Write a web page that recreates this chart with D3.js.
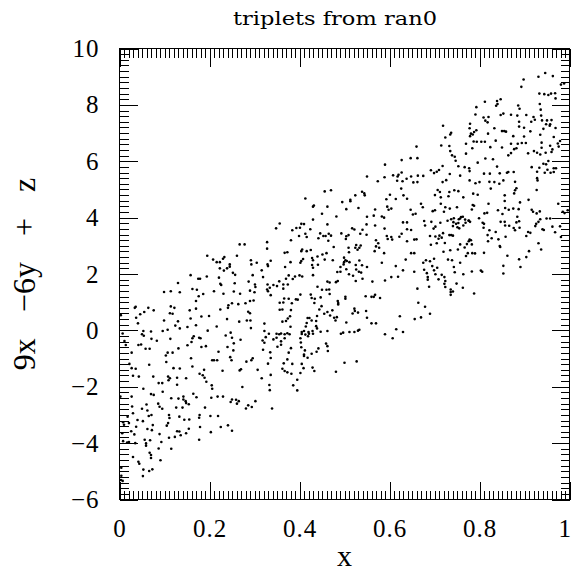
<!DOCTYPE html>
<html><head><meta charset="utf-8">
<script src="https://cdn.jsdelivr.net/npm/d3@7"></script>
<style>body{margin:0;background:#fff}svg{display:block}</style>
</head><body>
<svg id="chart" width="571" height="574"></svg>
<script>
const chartTitle = "triplets from ran0";
const xLabel = "x";
const yLabel = "9x \u22126y + z";
const xDomain = [0, 1];
const yDomain = [-6, 10];
const xTickValues = [0, 0.2, 0.4, 0.6, 0.8, 1];
const xTickLabels = ["0", "0.2", "0.4", "0.6", "0.8", "1"];
const yTickValues = [-6, -4, -2, 0, 2, 4, 6, 8, 10];
const yTickLabels = ["\u22126", "\u22124", "\u22122", "0", "2", "4", "6", "8", "10"];
const xMinorStep = 0.01;
const yMinorStep = 0.2;

// [x, 9x - 6y + z] pairs
const triplets = [
[0.660,6.52],[0.627,6.04],[0.647,6.11],[0.662,6.11],[0.590,5.88],[0.550,5.46],[0.574,5.29],[0.589,5.43],[0.608,5.50],[0.618,5.46],[0.620,5.52],[0.627,5.60],[0.617,5.31],[0.629,5.29],[0.638,5.38],[0.648,5.46],[0.663,5.49],[0.653,5.25],[0.662,5.26],[0.456,4.93],[0.470,4.97],[0.539,4.92],[0.544,4.86],[0.626,5.03],[0.524,4.79],[0.545,4.79],[0.601,4.81],[0.631,4.79],
[0.946,9.13],[0.931,9.00],[0.963,9.02],[0.898,8.90],[0.893,8.64],[0.981,8.72],[0.988,8.76],[0.933,8.40],[0.944,8.38],[0.953,8.35],[0.959,8.40],[0.968,8.41],[0.969,8.23],[0.847,8.20],[0.839,8.14],[0.840,8.03],[0.837,7.97],[0.812,8.11],[0.793,7.92],[0.886,7.98],[0.889,7.86],[0.934,8.03],[0.936,7.83],[0.937,7.62],[0.939,7.45],[0.950,7.45],[0.960,7.46],[0.948,7.31],[0.956,7.26],[0.957,7.31],[0.942,7.15],[0.935,6.94],[0.965,6.86],[0.969,7.18],[0.791,7.66],[0.809,7.55],[0.820,7.57],[0.813,7.44],[0.818,7.38],[0.847,7.64],[0.853,7.69],[0.870,7.65],[0.884,7.62],[0.904,7.64],[0.920,7.57],[0.923,7.47],[0.915,7.40],[0.888,7.40],[0.888,7.23],[0.899,7.19],[0.779,7.33],[0.778,7.17],[0.781,6.98],[0.779,6.89],[0.785,6.95],[0.788,7.04],[0.793,7.10],[0.719,7.26],[0.737,7.01],[0.735,6.95],[0.819,6.98],[0.833,7.17],[0.850,7.07],[0.859,7.05],[0.855,7.07],[0.899,6.88],[0.913,7.06],[0.875,6.89],[0.724,6.84],[0.715,6.56],[0.733,6.54],[0.735,6.36],[0.739,6.21],[0.745,6.16],[0.747,6.02],[0.770,6.62],[0.787,6.70],[0.794,6.69],[0.804,6.69],[0.812,6.69],[0.836,6.73],[0.824,6.50],[0.850,6.49],[0.870,6.62],[0.885,6.62],[0.894,6.65],[0.903,6.65],[0.882,6.46],[0.877,6.43],[0.870,6.29],[0.864,6.21],[0.908,6.28],[0.921,6.36],[0.928,6.30],[0.938,6.48],[0.935,6.24],[0.947,6.30],[0.938,6.66],[0.957,6.55],[0.962,6.42],[0.960,6.33],[0.976,6.52],[0.974,6.63],[0.979,6.72],[0.784,6.46],[0.770,6.27],[0.796,5.95],[0.813,6.10],[0.830,6.07],[0.839,5.81],[0.845,5.57],[0.861,5.59],[0.864,5.62],[0.876,5.62],[0.916,5.79],[0.933,5.77],[0.942,5.91],[0.948,5.89],[0.953,6.01],[0.958,5.59],[0.945,5.59],[0.928,5.63],[0.928,5.40],[0.929,5.32],[0.951,5.70],[0.965,5.75],[0.970,5.75],[0.965,5.62],[0.675,5.48],[0.692,5.68],[0.699,5.58],[0.705,5.63],[0.710,5.69],[0.718,5.83],[0.734,5.55],[0.753,5.82],[0.767,5.79],[0.777,5.75],[0.778,5.65],[0.757,5.49],[0.778,5.32],[0.791,5.22],[0.800,5.26],[0.810,5.56],[0.823,5.56],[0.822,5.27],[0.833,5.26],[0.844,5.20],[0.853,5.32],[0.879,5.27],[0.882,5.04],[0.879,4.97],[0.877,4.86],[0.718,5.26],[0.726,5.33],[0.707,4.98],[0.712,4.91],[0.744,4.97],[0.753,4.94],[0.701,4.80],[0.733,4.91],[0.786,4.85],[0.796,4.81],[0.825,5.03],[0.927,4.98],
[0.714,4.72],[0.731,4.76],[0.764,4.72],[0.856,4.79],[0.909,4.63],[0.856,4.59],[0.890,4.54],[0.820,4.49],[0.785,4.45],[0.788,4.42],[0.674,4.37],[0.670,4.49],[0.714,4.49],[0.724,4.37],[0.734,4.32],[0.750,4.37],[0.783,4.29],[0.696,4.23],[0.701,4.26],[0.721,4.21],[0.759,4.02],[0.757,3.97],[0.763,4.03],[0.754,3.94],[0.776,3.90],[0.799,3.98],[0.811,4.15],[0.817,4.17],[0.841,4.26],[0.857,4.34],[0.865,4.28],[0.875,4.32],[0.887,4.30],[0.884,4.03],[0.888,3.87],[0.882,3.83],[0.856,3.85],[0.847,3.85],[0.857,3.72],[0.866,3.71],[0.876,3.63],[0.889,3.64],[0.916,4.28],[0.919,4.21],[0.927,4.15],[0.934,4.22],[0.949,3.97],[0.957,3.97],[0.975,4.49],[0.985,4.21],[0.989,4.16],[0.996,4.26],[0.677,3.88],[0.693,3.85],[0.679,3.72],[0.698,3.61],[0.702,3.68],[0.713,3.82],[0.729,3.89],[0.737,3.94],[0.743,3.98],[0.742,3.84],[0.741,3.70],[0.751,3.66],[0.755,3.62],[0.764,3.72],[0.769,3.82],[0.768,3.93],[0.776,3.89],[0.779,3.85],[0.753,3.81],[0.748,3.78],[0.807,3.82],[0.809,3.64],[0.822,3.55],[0.836,3.49],[0.819,3.16],[0.827,3.27],[0.842,3.23],[0.845,2.99],[0.846,2.96],[0.858,3.32],[0.862,2.65],[0.879,3.55],[0.904,3.35],[0.908,3.49],[0.913,3.46],[0.924,3.70],[0.926,3.78],[0.931,3.85],[0.935,3.94],[0.940,3.59],[0.943,3.56],[0.962,3.68],[0.968,3.48],[0.979,3.69],[0.981,3.31],[0.931,3.09],[0.937,2.87],[0.690,3.35],[0.692,3.04],[0.702,3.33],[0.705,3.09],[0.709,3.25],[0.711,3.36],[0.716,3.29],[0.719,3.45],[0.733,3.38],[0.737,3.38],[0.741,3.36],[0.723,3.10],[0.735,2.84],[0.720,2.79],[0.752,2.87],[0.757,3.05],[0.767,2.94],[0.772,3.06],[0.776,3.16],[0.778,3.22],[0.781,3.20],[0.783,3.05],[0.770,2.64],[0.774,2.74],[0.784,2.74],[0.790,2.73],[0.810,2.75],[0.810,3.78],[0.818,3.38],[0.851,4.13],[0.675,2.40],[0.681,2.49],[0.690,2.45],[0.699,2.54],[0.677,2.15],[0.683,2.03],[0.685,1.89],[0.685,1.80],[0.695,2.28],[0.699,2.13],[0.702,1.99],[0.706,2.22],[0.716,1.97],[0.722,1.89],[0.724,1.75],[0.722,1.65],[0.709,1.81],[0.724,1.54],[0.688,1.55],[0.662,1.48],[0.730,2.51],[0.739,2.49],[0.743,2.25],[0.745,2.06],[0.757,2.40],[0.764,1.99],[0.749,1.66],[0.763,1.51],[0.736,1.45],[0.736,1.36],[0.736,1.26],[0.741,1.38],[0.783,2.09],[0.803,2.12],[0.806,2.08],[0.853,2.29],[0.853,2.02],[0.888,2.52],[0.891,2.25],[0.904,2.60],[0.910,2.81],[0.788,1.31],[0.679,0.84],[0.690,0.59],[0.670,0.46],
[0.267,3.05],[0.278,3.05],[0.328,3.13],[0.328,2.90],[0.195,2.65],[0.208,2.51],[0.216,2.42],[0.223,2.42],[0.230,2.54],[0.233,2.60],[0.261,2.65],[0.292,2.49],[0.293,2.34],[0.305,2.40],[0.329,2.34],[0.330,2.28],[0.223,2.20],[0.232,2.12],[0.239,2.20],[0.245,2.34],[0.245,2.26],[0.252,2.04],[0.257,1.97],[0.316,2.13],[0.158,1.96],[0.194,1.91],[0.175,1.83],[0.179,1.83],[0.221,1.87],[0.224,1.65],[0.226,1.61],[0.256,1.67],[0.296,1.96],[0.287,1.73],[0.301,1.63],[0.302,1.54],[0.319,1.89],[0.328,1.45],[0.330,1.39],[0.130,1.68],[0.099,1.36],[0.114,1.39],[0.134,1.35],[0.162,1.47],[0.172,1.44],[0.186,1.29],[0.210,1.39],[0.231,1.30],[0.254,1.38],[0.268,1.30],[0.290,1.41],[0.300,1.35],[0.176,1.21],[0.170,1.04],[0.036,0.84],[0.034,0.80],[0.064,0.80],[0.076,0.71],[0.055,0.65],[0.046,0.57],[0.037,0.45],[0.041,0.25],[0.114,0.85],[0.122,0.80],[0.112,0.61],[0.118,0.59],[0.156,0.71],[0.170,0.77],[0.182,0.49],[0.199,0.51],[0.224,0.74],[0.242,0.89],[0.250,0.96],[0.264,0.93],[0.280,0.96],[0.290,1.04],[0.298,1.06],[0.286,0.66],[0.290,0.61],[0.283,0.35],[0.291,0.35],[0.241,0.80],[0.239,0.40],[0.266,0.31],[0.292,0.08],[0.322,0.24],[0.003,0.54],[0.099,0.35],[0.130,0.32],[0.124,0.17],[0.134,0.07],[0.151,0.12],[0.158,0.42],[0.170,0.18],[0.196,-0.01],[0.216,0.14],[0.236,-0.18],[0.247,-0.08],[0.250,-0.26],[0.254,-0.46],[0.269,-0.33],[0.318,-0.36],[0.322,-0.44],[0.322,-0.02],[0.325,-0.24],[0.007,-0.11],[0.053,-0.02],[0.050,-0.14],[0.054,-0.19],[0.070,-0.04],[0.071,-0.30],[0.083,-0.37],[0.096,-0.02],[0.107,0.02],[0.113,-0.30],[0.151,-0.53],[0.162,-0.28],[0.160,-0.41],[0.165,-0.21],[0.177,-0.26],[0.180,-0.28],[0.011,-0.38],[0.014,-0.52],[0.042,-0.52],[0.048,-0.50],[0.192,-0.56],
[0.413,4.68],[0.432,4.43],[0.430,4.39],[0.462,4.39],[0.450,4.14],[0.482,4.04],[0.495,4.55],[0.504,4.30],[0.513,4.63],[0.513,4.58],[0.531,4.34],[0.568,4.29],[0.593,4.65],[0.595,4.39],[0.598,4.28],[0.604,4.32],[0.614,4.66],[0.639,4.67],[0.647,4.28],[0.652,4.11],[0.658,4.14],[0.550,4.03],[0.565,4.07],[0.583,4.04],[0.588,4.00],[0.348,3.62],[0.356,3.79],[0.384,3.55],[0.393,3.63],[0.401,3.64],[0.404,3.78],[0.410,3.77],[0.424,3.59],[0.430,3.93],[0.462,3.76],[0.413,3.43],[0.416,3.31],[0.399,3.35],[0.381,3.20],[0.446,3.44],[0.442,3.27],[0.453,3.35],[0.458,3.35],[0.465,3.43],[0.470,3.36],[0.464,3.18],[0.493,3.44],[0.504,3.34],[0.509,3.38],[0.503,3.24],[0.517,3.62],[0.522,3.58],[0.535,3.43],[0.540,3.57],[0.549,3.39],[0.549,3.76],[0.568,3.72],[0.589,3.61],[0.594,3.35],[0.604,3.31],[0.606,3.22],[0.596,3.24],[0.622,3.32],[0.627,3.43],[0.630,3.83],[0.639,3.83],[0.639,3.59],[0.648,3.56],[0.639,3.16],[0.655,3.22],[0.660,3.23],[0.570,3.20],[0.575,3.09],[0.570,2.98],[0.577,2.93],[0.567,2.81],[0.536,3.01],[0.526,3.03],[0.524,2.93],[0.533,2.93],[0.529,2.86],[0.509,2.93],[0.510,2.77],[0.476,2.96],[0.460,2.74],[0.474,2.49],[0.456,2.51],[0.425,2.85],[0.416,2.81],[0.406,2.87],[0.404,2.81],[0.373,2.77],[0.367,2.75],[0.336,2.47],[0.329,1.63],[0.334,1.51],[0.368,2.25],[0.380,2.42],[0.428,2.57],[0.430,2.49],[0.440,2.62],[0.451,2.69],[0.441,2.33],[0.428,2.32],[0.430,2.22],[0.408,2.53],[0.404,2.46],[0.402,2.40],[0.499,2.58],[0.502,2.49],[0.499,2.42],[0.505,2.46],[0.511,2.42],[0.498,2.34],[0.491,2.25],[0.504,2.17],[0.484,2.07],[0.491,2.08],[0.525,2.32],[0.533,2.48],[0.539,2.31],[0.526,2.16],[0.532,2.08],[0.537,2.05],[0.550,2.25],[0.540,1.83],[0.525,1.75],[0.510,1.99],[0.519,1.94],[0.481,1.71],[0.485,1.75],[0.462,1.73],[0.467,1.70],[0.430,1.96],[0.400,1.95],[0.406,1.91],[0.390,1.91],[0.385,1.82],[0.376,1.95],[0.374,1.63],[0.364,1.63],[0.355,1.74],[0.350,1.57],[0.342,1.61],[0.336,1.25],[0.364,1.48],[0.370,1.83],[0.440,1.55],[0.450,1.44],[0.460,1.44],[0.466,1.45],[0.467,1.29],[0.447,1.17],[0.425,1.27],[0.434,1.12],[0.433,0.97],[0.427,1.15],[0.402,1.27],[0.392,1.10],[0.383,0.96],[0.366,1.13],[0.376,1.12],[0.356,0.98],[0.364,0.99],[0.356,0.73],[0.362,0.74],[0.381,0.72],[0.379,0.50],[0.374,0.42],[0.362,0.31],[0.370,0.33],[0.380,0.13],[0.373,-0.10],[0.378,-0.14],[0.349,-0.12],[0.355,-0.14],[0.359,-0.11],[0.367,-0.14],[0.342,-0.32],[0.349,-0.26],[0.367,-0.28],[0.359,-0.39],[0.359,-0.51],[0.332,-0.12],[0.396,1.09],[0.562,1.73],[0.590,1.77],[0.604,1.89],[0.619,1.90],[0.630,2.13],[0.636,2.51],[0.648,2.74],[0.655,2.74],[0.614,2.28],[0.588,2.74],[0.583,2.40],[0.655,2.08],[0.568,1.26],[0.560,1.19],[0.565,1.19],[0.579,1.15],[0.547,1.21],[0.502,1.12],[0.485,1.04],[0.486,0.97],[0.486,0.92],[0.502,1.19],[0.522,0.77],[0.523,0.69],[0.518,0.60],[0.530,0.63],[0.548,0.69],[0.550,0.45],[0.560,0.25],[0.570,0.25],[0.504,0.28],[0.492,-0.12],[0.497,-0.08],[0.511,-0.06],[0.522,-0.06],[0.530,-0.01],[0.533,0.02],[0.483,0.47],[0.477,0.45],[0.480,0.35],[0.473,0.71],[0.468,0.53],[0.462,0.65],[0.455,0.59],[0.449,0.86],[0.444,0.74],[0.427,0.35],[0.437,0.33],[0.439,0.51],[0.437,0.15],[0.439,0.07],[0.422,0.44],[0.418,0.44],[0.416,0.26],[0.414,0.14],[0.410,-0.02],[0.413,-0.15],[0.405,-0.06],[0.405,-0.13],[0.420,-0.06],[0.421,-0.12],[0.419,-0.21],[0.402,-0.28],[0.403,-0.43],[0.429,-0.02],[0.430,-0.12],[0.447,-0.05],[0.462,-0.02],[0.459,-0.47],[0.462,-0.56],[0.590,-0.14],[0.607,-0.28],[0.615,0.04],[0.623,0.50],[0.630,-0.06],[0.656,0.40],[0.664,0.98],
[0.027,-0.79],[0.058,-0.65],[0.067,-0.65],[0.103,-0.89],[0.107,-0.79],[0.118,-0.79],[0.131,-0.64],[0.182,-0.59],[0.240,-0.59],[0.253,-0.71],[0.319,-0.69],[0.296,-0.99],[0.282,-1.11],[0.293,-1.06],[0.220,-0.76],[0.206,-1.06],[0.210,-1.06],[0.217,-1.06],[0.246,-0.95],[0.249,-1.06],[0.270,-1.38],[0.267,-1.42],[0.229,-1.43],[0.188,-1.40],[0.162,-1.28],[0.159,-0.99],[0.134,-1.35],[0.120,-1.34],[0.104,-1.12],[0.066,-1.22],[0.022,-1.19],[0.027,-1.34],[0.036,-1.36],[0.030,-1.61],[0.043,-1.64],[0.075,-1.64],[0.087,-1.87],[0.095,-1.87],[0.096,-2.18],[0.108,-1.64],[0.112,-1.70],[0.109,-1.77],[0.128,-1.68],[0.128,-1.93],[0.148,-1.70],[0.178,-1.54],[0.185,-1.59],[0.189,-1.68],[0.193,-1.82],[0.205,-1.95],[0.206,-2.07],[0.164,-2.25],[0.171,-2.37],[0.142,-2.35],[0.142,-2.45],[0.147,-2.51],[0.148,-2.58],[0.154,-2.62],[0.140,-2.74],[0.126,-2.74],[0.131,-2.42],[0.115,-2.41],[0.070,-2.26],[0.076,-2.29],[0.053,-2.07],[0.027,-2.35],[0.028,-2.70],[0.030,-2.94],[0.050,-2.78],[0.060,-2.63],[0.062,-2.84],[0.071,-3.00],[0.065,-3.04],[0.086,-2.60],[0.089,-2.71],[0.095,-2.78],[0.110,-3.00],[0.111,-3.11],[0.108,-3.29],[0.105,-3.38],[0.133,-3.06],[0.144,-3.17],[0.155,-3.16],[0.178,-3.00],[0.177,-3.10],[0.202,-3.04],[0.219,-3.04],[0.190,-2.74],[0.204,-2.39],[0.218,-2.35],[0.230,-2.35],[0.250,-2.45],[0.247,-2.54],[0.259,-2.46],[0.265,-2.51],[0.261,-2.60],[0.281,-2.77],[0.286,-2.66],[0.294,-2.72],[0.302,-2.51],[0.273,-2.01],[0.307,-1.40],[0.316,-1.70],[0.333,-1.94],[0.225,-3.43],[0.241,-3.37],[0.250,-3.56],[0.179,-3.43],[0.203,-3.61],[0.177,-3.88],[0.154,-3.49],[0.148,-3.65],[0.136,-3.72],[0.133,-3.59],[0.128,-3.58],[0.123,-3.78],[0.115,-4.20],[0.087,-4.19],[0.093,-3.96],[0.110,-3.81],[0.089,-3.68],[0.074,-3.36],[0.072,-3.54],[0.062,-3.50],[0.052,-3.22],[0.037,-3.42],[0.040,-3.18],[0.021,-3.29],[0.026,-3.58],[0.033,-3.69],[0.035,-4.00],[0.021,-3.96],[0.017,-3.98],[0.056,-3.88],[0.059,-4.01],[0.059,-4.09],[0.068,-3.90],[0.008,-3.26],[0.006,-3.65],[0.008,-3.93],[0.018,-3.06],[0.010,-3.35],[0.002,-2.35],[0.067,-4.34],[0.070,-4.42],[0.070,-4.53],[0.091,-4.61],[0.073,-4.93],[0.066,-4.99],[0.053,-4.94],[0.052,-5.17],[0.042,-4.66],[0.044,-4.73],[0.030,-4.49],[0.004,-4.87],[0.004,-5.16],[0.003,-5.31],[0.007,-5.34],
[0.351,-0.58],[0.381,-0.63],[0.404,-0.60],[0.412,-0.71],[0.410,-0.86],[0.410,-0.91],[0.418,-0.97],[0.427,-0.83],[0.438,-0.76],[0.442,-0.64],[0.463,-0.73],[0.335,-0.78],[0.336,-0.98],[0.376,-0.79],[0.373,-1.03],[0.365,-1.17],[0.330,-1.18],[0.384,-1.19],[0.405,-1.19],[0.409,-1.34],[0.429,-1.32],[0.433,-1.44],[0.362,-1.36],[0.367,-1.44],[0.373,-1.49],[0.382,-1.54],[0.402,-1.51],[0.336,-1.58],[0.395,-1.75],[0.386,-1.95],[0.395,-2.13],[0.334,-2.12],[0.339,-2.77],[0.481,-1.47],[0.500,-1.15],[0.527,-1.10]
];

const W = 571, H = 574;
const plot = {left: 119.5, right: 569.5, top: 48.5, bottom: 499.5};
const svg = d3.select("#chart");
const xs = d3.scaleLinear().domain(xDomain).range([plot.left, plot.right]);
const ys = d3.scaleLinear().domain(yDomain).range([plot.bottom, plot.top]);

const fontSerif = "'Liberation Serif', 'DejaVu Serif', serif";
const majorLen = 18, minorLen = 9;
const xMinor = d3.range(xDomain[0], xDomain[1] + 1e-9, xMinorStep);
const yMinor = d3.range(yDomain[0], yDomain[1] + 1e-9, yMinorStep);

function styleAxis(g) {
  g.select(".domain").remove();
  g.selectAll("line").attr("stroke", "#000").attr("stroke-width", 1).attr("shape-rendering", "crispEdges");
}

// minor ticks, all four sides
svg.append("g").attr("transform", `translate(0,${plot.bottom})`)
  .call(d3.axisBottom(xs).tickValues(xMinor).tickSize(-minorLen).tickFormat("")).call(styleAxis);
svg.append("g").attr("transform", `translate(0,${plot.top})`)
  .call(d3.axisTop(xs).tickValues(xMinor).tickSize(-minorLen).tickFormat("")).call(styleAxis);
svg.append("g").attr("transform", `translate(${plot.left},0)`)
  .call(d3.axisLeft(ys).tickValues(yMinor).tickSize(-minorLen).tickFormat("")).call(styleAxis);
svg.append("g").attr("transform", `translate(${plot.right},0)`)
  .call(d3.axisRight(ys).tickValues(yMinor).tickSize(-minorLen).tickFormat("")).call(styleAxis);

// major ticks with labels
const gx = svg.append("g").attr("transform", `translate(0,${plot.bottom})`)
  .call(d3.axisBottom(xs).tickValues(xTickValues).tickSize(-majorLen).tickPadding(20)
    .tickFormat((d, i) => xTickLabels[i])).call(styleAxis);
svg.append("g").attr("transform", `translate(0,${plot.top})`)
  .call(d3.axisTop(xs).tickValues(xTickValues).tickSize(-majorLen).tickFormat("")).call(styleAxis);
const gy = svg.append("g").attr("transform", `translate(${plot.left},0)`)
  .call(d3.axisLeft(ys).tickValues(yTickValues).tickSize(-majorLen).tickPadding(20)
    .tickFormat((d, i) => yTickLabels[i])).call(styleAxis);
svg.append("g").attr("transform", `translate(${plot.right},0)`)
  .call(d3.axisRight(ys).tickValues(yTickValues).tickSize(-majorLen).tickFormat("")).call(styleAxis);

[gx, gy].forEach(g => g.selectAll("text")
  .attr("font-family", fontSerif).attr("font-size", 25).attr("fill", "#000")
  .attr("letter-spacing", 1));
// last x label sits at the right edge: keep it inside the page
gx.selectAll("text").filter(d => d === xDomain[1])
  .attr("text-anchor", "end").attr("letter-spacing", 0).attr("dx", 1);

// frame
svg.append("rect")
  .attr("x", plot.left).attr("y", plot.top)
  .attr("width", plot.right - plot.left).attr("height", plot.bottom - plot.top)
  .attr("fill", "none").attr("stroke", "#000").attr("stroke-width", 1)
  .attr("shape-rendering", "crispEdges");

// points
svg.append("g").selectAll("circle").data(triplets).join("circle")
  .attr("cx", d => xs(d[0])).attr("cy", d => ys(d[1]))
  .attr("r", 1.3).attr("fill", "#000");

// title and axis labels
svg.append("text").attr("x", 335).attr("y", 25)
  .attr("text-anchor", "middle").attr("font-family", "'DejaVu Serif', serif")
  .attr("font-size", 19).attr("fill", "#000")
  .attr("textLength", 204).attr("lengthAdjust", "spacingAndGlyphs")
  .text(chartTitle);
svg.append("text").attr("x", (plot.left + plot.right) / 2).attr("y", 566)
  .attr("text-anchor", "middle").attr("font-family", fontSerif)
  .attr("font-size", 30).attr("fill", "#000").text(xLabel);
svg.append("text").attr("transform", "translate(35,274) rotate(-90)")
  .attr("text-anchor", "middle").attr("font-family", fontSerif)
  .attr("font-size", 32).attr("fill", "#000")
  .attr("word-spacing", 18)
  .text(yLabel);
</script>
</body></html>
